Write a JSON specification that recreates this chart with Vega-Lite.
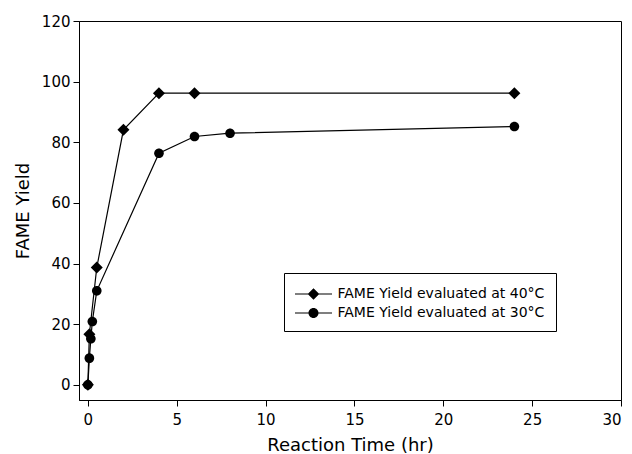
{
  "$schema": "https://vega.github.io/schema/vega-lite/v6.json",
  "width": 542,
  "height": 379,
  "autosize": {"type": "none"},
  "padding": {"left": 79, "top": 21, "right": 11, "bottom": 54},
  "background": "white",
  "config": {
    "font": "DejaVu Sans",
    "view": {"stroke": "black", "strokeWidth": 1},
    "axis": {
      "grid": false,
      "domainColor": "black",
      "tickColor": "black",
      "tickSize": 6,
      "labelColor": "black",
      "titleColor": "black",
      "labelFontSize": 15,
      "titleFontSize": 18,
      "titleFontWeight": "normal",
      "labelPadding": 3
    }
  },
  "data": {
    "values": [
      {"s": "FAME Yield evaluated at 30°C", "t": 0, "y": 0},
      {"s": "FAME Yield evaluated at 30°C", "t": 0.083, "y": 8.8},
      {"s": "FAME Yield evaluated at 30°C", "t": 0.167, "y": 15.2},
      {"s": "FAME Yield evaluated at 30°C", "t": 0.25, "y": 20.9},
      {"s": "FAME Yield evaluated at 30°C", "t": 0.5, "y": 31},
      {"s": "FAME Yield evaluated at 30°C", "t": 4, "y": 76.4},
      {"s": "FAME Yield evaluated at 30°C", "t": 6, "y": 81.9},
      {"s": "FAME Yield evaluated at 30°C", "t": 8, "y": 83},
      {"s": "FAME Yield evaluated at 30°C", "t": 24, "y": 85.2},
      {"s": "FAME Yield evaluated at 40°C", "t": 0, "y": 0},
      {"s": "FAME Yield evaluated at 40°C", "t": 0.083, "y": 16.7},
      {"s": "FAME Yield evaluated at 40°C", "t": 0.5, "y": 38.7},
      {"s": "FAME Yield evaluated at 40°C", "t": 2, "y": 84.1},
      {"s": "FAME Yield evaluated at 40°C", "t": 4, "y": 96.2},
      {"s": "FAME Yield evaluated at 40°C", "t": 6, "y": 96.2},
      {"s": "FAME Yield evaluated at 40°C", "t": 24, "y": 96.2}
    ]
  },
  "encoding": {
    "x": {
      "field": "t", "type": "quantitative",
      "scale": {"domain": [-0.5, 30], "nice": false, "zero": false},
      "axis": {"values": [0, 5, 10, 15, 20, 25, 30], "title": "Reaction Time (hr)", "labelPadding": 6, "titlePadding": 9}
    },
    "y": {
      "field": "y", "type": "quantitative",
      "scale": {"domain": [-5, 120], "nice": false, "zero": false},
      "axis": {"values": [0, 20, 40, 60, 80, 100, 120], "title": "FAME Yield", "titlePadding": 9}
    }
  },
  "layer": [
    {
      "mark": {"type": "line", "color": "black", "strokeWidth": 1.2},
      "encoding": {"detail": {"field": "s"}}
    },
    {
      "mark": {"type": "point", "filled": true, "color": "black", "opacity": 1, "size": 144},
      "encoding": {
        "shape": {
          "field": "s", "type": "nominal",
          "scale": {
            "domain": ["FAME Yield evaluated at 40°C", "FAME Yield evaluated at 30°C"],
            "range": [
              "M-1,0L0,-1L1,0L0,1Z",
              "M0.8,0A0.8,0.8,0,1,1,-0.8,0A0.8,0.8,0,1,1,0.8,0Z"
            ]
          },
          "legend": null
        }
      }
    },
    {
      "transform": [{"filter": "datum.t < -100"}],
      "mark": {"type": "point", "filled": true, "color": "black", "opacity": 1},
      "encoding": {
        "shape": {
          "field": "s", "type": "nominal",
          "scale": {
            "domain": ["FAME Yield evaluated at 40°C", "FAME Yield evaluated at 30°C"],
            "range": [
              "M-1.85,-0.06L1.85,-0.06L1.85,0.06L-1.85,0.06ZM0,-0.58L0.58,0L0,0.58L-0.58,0Z",
              "M-1.85,-0.06L1.85,-0.06L1.85,0.06L-1.85,0.06ZM0.5,0A0.5,0.5,0,1,1,-0.5,0A0.5,0.5,0,1,1,0.5,0Z"
            ]
          },
          "legend": {
            "title": null,
            "orient": "none",
            "legendX": 205,
            "legendY": 252,
            "padding": 11,
            "strokeColor": "black",
            "symbolSize": 400,
            "symbolFillColor": "black",
            "symbolStrokeColor": "black",
            "symbolStrokeWidth": 0,
            "symbolOffset": 8.5,
            "labelOffset": 14,
            "labelFontSize": 14,
            "labelColor": "black",
            "labelLimit": 400,
            "rowPadding": 2,
            "encode": {
              "symbols": {
                "fill": {"value": "black"},
                "fillOpacity": {"value": 1}
              }
            }
          }
        }
      }
    }
  ],
  "resolve": {"scale": {"shape": "independent"}}
}
